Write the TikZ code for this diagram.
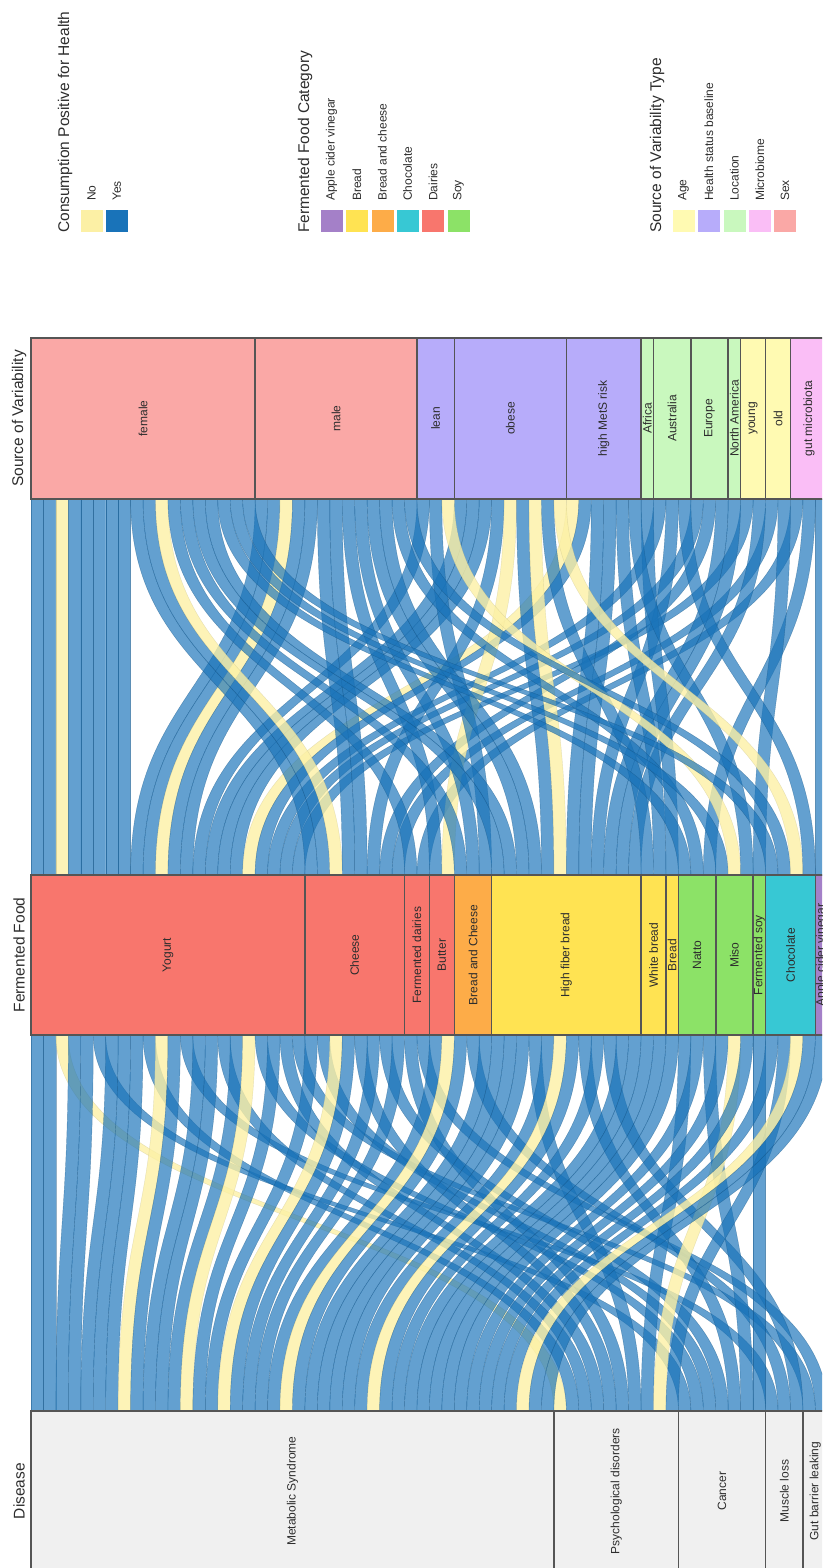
\documentclass[tikz,border=0pt]{standalone}
\usepackage{fontspec}
\setmainfont{Liberation Sans}
\definecolor{yescol}{RGB}{25,115,185}
\definecolor{nocol}{RGB}{252,240,165}
\definecolor{dairies}{RGB}{248,118,109}
\definecolor{breadcheese}{RGB}{253,172,72}
\definecolor{bread}{RGB}{255,227,82}
\definecolor{soy}{RGB}{140,226,103}
\definecolor{chocolate}{RGB}{55,200,212}
\definecolor{vinegar}{RGB}{164,128,200}
\definecolor{sexcol}{RGB}{250,168,166}
\definecolor{healthcol}{RGB}{183,172,250}
\definecolor{locationcol}{RGB}{201,248,190}
\definecolor{agecol}{RGB}{255,250,178}
\definecolor{microcol}{RGB}{250,190,246}
\definecolor{diseasecol}{RGB}{240,240,240}
\definecolor{boxline}{RGB}{85,85,85}
\definecolor{labtext}{RGB}{45,45,45}
\begin{document}
\begin{tikzpicture}[x=1pt,y=-1pt,
	stratum/.style={draw=boxline,line width=1.5pt},
	lab/.style={rotate=90,font=\fontsize{12}{14}\selectfont,text=labtext,inner sep=0pt},
	axtitle/.style={rotate=90,font=\fontsize{15.5}{18}\selectfont,text=labtext,inner sep=0pt},
	legitem/.style={rotate=90,anchor=west,font=\fontsize{12}{14}\selectfont,text=labtext,inner sep=0pt},
	swatch/.style={draw=white,line width=.5pt},
	yesflow/.style={fill=yescol,fill opacity=.68,draw=yescol!70!black,draw opacity=.45,line width=.4pt},
	noflow/.style={fill=nocol,fill opacity=.8,draw=nocol!70!black,draw opacity=.3,line width=.4pt}]
		\useasboundingbox (0,0) rectangle (822,1568);
		\clip (0,0) rectangle (822,1568);

		% flows: food slot / source slot / disease slot / consumption
		\foreach \k/\s/\d/\fl in {0/0/0/yesflow, 1/1/1/yesflow, 2/2/42/noflow, 3/3/2/yesflow,
			4/4/3/yesflow, 5/5/52/yesflow, 6/6/4/yesflow, 7/7/5/yesflow, 8/18/6/yesflow,
			9/19/43/yesflow, 10/20/7/noflow, 11/21/8/yesflow, 12/22/59/yesflow, 13/31/9/yesflow,
			14/34/10/yesflow, 15/35/44/yesflow, 16/36/11/yesflow, 17/43/12/noflow, 18/44/53/yesflow,
			19/50/13/yesflow, 20/53/45/yesflow, 21/57/62/yesflow, 22/8/14/yesflow, 23/9/54/yesflow,
			24/10/15/noflow, 25/23/16/yesflow, 26/24/46/yesflow, 27/37/17/yesflow, 28/54/55/yesflow,
			29/59/18/yesflow, 30/11/47/yesflow, 31/61/63/yesflow, 32/25/19/yesflow, 33/38/20/noflow,
			34/12/21/yesflow, 35/26/60/yesflow, 36/32/22/yesflow, 37/13/23/yesflow, 38/14/24/yesflow,
			39/27/25/yesflow, 40/28/48/yesflow, 41/39/26/yesflow, 42/40/27/noflow, 43/45/28/yesflow,
			44/46/56/yesflow, 45/51/29/yesflow, 46/55/61/yesflow, 47/56/30/yesflow, 48/58/31/yesflow,
			49/41/32/yesflow, 50/47/33/yesflow, 51/49/34/yesflow, 52/15/49/yesflow, 53/29/35/yesflow,
			54/62/57/yesflow, 55/16/36/yesflow, 56/33/50/noflow, 57/48/37/yesflow, 58/60/58/yesflow,
			59/17/38/yesflow, 60/30/51/yesflow, 61/42/39/noflow, 62/52/40/yesflow, 63/63/41/yesflow}
		{
			\pgfmathsetmacro\xk{31+12.45*\k}
			\pgfmathsetmacro\xs{31+12.45*\s}
			\pgfmathsetmacro\xd{31+12.45*\d}
			\filldraw[\fl] (\xs,499) .. controls (\xs,687) and (\xk,687) .. (\xk,875)
				-- ({\xk+12.45},875) .. controls ({\xk+12.45},687) and ({\xs+12.45},687) .. ({\xs+12.45},499) -- cycle;
			\filldraw[\fl] (\xk,1035) .. controls (\xk,1223) and (\xd,1223) .. (\xd,1411)
				-- ({\xd+12.45},1411) .. controls ({\xd+12.45},1223) and ({\xk+12.45},1223) .. ({\xk+12.45},1035) -- cycle;
		}

		% source of variability
		\foreach \a/\b/\col/\lab/\nm in {0/18/sexcol/female/female, 18/31/sexcol/male/male,
			31/34/healthcol/lean/lean, 34/43/healthcol/obese/obese, 43/49/healthcol/high MetS risk/hmets,
			49/50/locationcol/Africa/africa, 50/53/locationcol/Australia/australia,
			53/56/locationcol/Europe/europe, 56/57/locationcol/North America/namerica,
			57/59/agecol/young/young, 59/61/agecol/old/old, 61/64/microcol/gut microbiota/gut}
		{
			\pgfmathsetmacro\xa{31+12.45*\a}
			\pgfmathsetmacro\xb{31+12.45*\b}
			\draw[stratum,fill=\col] (\xa,338) rectangle (\xb,499);
			\node[lab] (\nm) at ({(\xa+\xb)/2},418.5) {\lab};
		}

		% fermented food
		\foreach \a/\b/\col/\lab/\nm in {0/22/dairies/Yogurt/yogurt, 22/30/dairies/Cheese/cheese,
			30/32/dairies/Fermented dairies/fdairies, 32/34/dairies/Butter/butter,
			34/37/breadcheese/Bread and Cheese/breadandcheese, 37/49/bread/High fiber bread/hfbread,
			49/51/bread/White bread/wbread, 51/52/bread/Bread/plainbread, 52/55/soy/Natto/natto,
			55/58/soy/Miso/miso, 58/59/soy/Fermented soy/fsoy, 59/63/chocolate/Chocolate/choc,
			63/64/vinegar/Apple cider vinegar/acv}
		{
			\pgfmathsetmacro\xa{31+12.45*\a}
			\pgfmathsetmacro\xb{31+12.45*\b}
			\draw[stratum,fill=\col] (\xa,875) rectangle (\xb,1035);
			\node[lab] (\nm) at ({(\xa+\xb)/2},955) {\lab};
		}

		% disease
		\foreach \a/\b/\lab/\nm in {0/42/Metabolic Syndrome/mets, 42/52/Psychological disorders/psych,
			52/59/Cancer/cancer, 59/62/Muscle loss/muscle, 62/64/Gut barrier leaking/gutbarrier}
		{
			\pgfmathsetmacro\xa{31+12.45*\a}
			\pgfmathsetmacro\xb{31+12.45*\b}
			\draw[stratum,fill=diseasecol] (\xa,1411) rectangle (\xb,1571);
			\node[lab] (\nm) at ({(\xa+\xb)/2},1491) {\lab};
		}

		% axis titles
		\node[axtitle] (tsource) at (19,418.5) {Source of Variability};
		\node[axtitle] (tfood) at (19,955) {Fermented Food};
		\node[axtitle] (tdisease) at (19,1491) {Disease};

		% legends
		\node[axtitle,anchor=west] (lcons) at (65,233) {Consumption Positive for Health};
		\foreach \i/\col/\lab in {0/nocol/No, 1/yescol/Yes}
		{
			\fill[swatch,fill=\col] ({80+25.4*\i},209) rectangle ({103+25.4*\i},232);
			\node[legitem] (cons\i) at ({91.5+25.4*\i},201) {\lab};
		}

		\node[axtitle,anchor=west] (lcat) at (305,233) {Fermented Food Category};
		\foreach \i/\col/\lab in {0/vinegar/Apple cider vinegar, 1/bread/Bread, 2/breadcheese/Bread and cheese,
			3/chocolate/Chocolate, 4/dairies/Dairies, 5/soy/Soy}
		{
			\fill[swatch,fill=\col] ({320+25.4*\i},209) rectangle ({343+25.4*\i},232);
			\node[legitem] (cat\i) at ({331.5+25.4*\i},201) {\lab};
		}

		\node[axtitle,anchor=west] (ltype) at (657,233) {Source of Variability Type};
		\foreach \i/\col/\lab in {0/agecol/Age, 1/healthcol/Health status baseline, 2/locationcol/Location,
			3/microcol/Microbiome, 4/sexcol/Sex}
		{
			\fill[swatch,fill=\col] ({672+25.4*\i},209) rectangle ({695+25.4*\i},232);
			\node[legitem] (type\i) at ({683.5+25.4*\i},201) {\lab};
		}
	\end{tikzpicture}
\end{document}
